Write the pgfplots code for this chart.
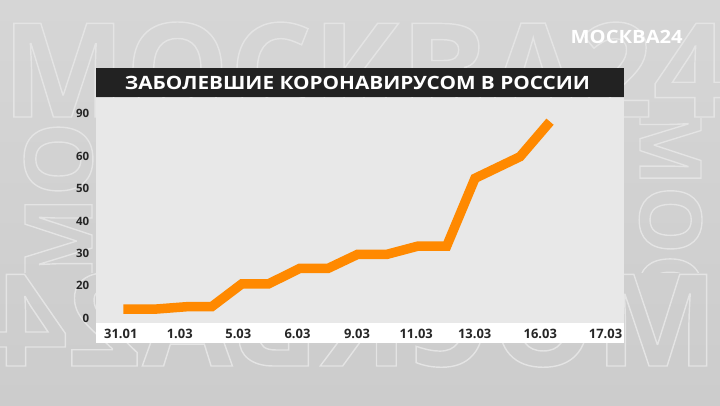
\documentclass[border=0pt]{standalone}
\usepackage{pgfplots}
\pgfplotsset{compat=1.18}
\usepackage{fontspec}
\setmainfont{Open Sans}
\definecolor{bgtop}{RGB}{214,214,214}
\definecolor{bgbot}{RGB}{204,204,204}
\definecolor{wm}{RGB}{228,228,228}
\definecolor{panel}{RGB}{232,232,232}
\definecolor{titlebg}{RGB}{34,34,34}
\definecolor{lineor}{RGB}{255,137,0}
\definecolor{lbl}{RGB}{38,38,38}
\newcommand{\outl}[2]{\special{pdf:literal direct 1 Tr #1 w}#2\special{pdf:literal direct 0 Tr}}
\begin{document}
\begin{tikzpicture}[x=1bp,y=1bp]
\shade[top color=bgtop,bottom color=bgbot] (0,0) rectangle (720,405);
% watermark
\begin{scope}
\clip (0,0) rectangle (720,405);
\node[anchor=base west, inner sep=0, text=wm] at (2,288) {\resizebox{725bp}{95bp}{\bfseries\outl{0.11}{МОСКВА24}}};
\node[anchor=base west, inner sep=0, text=wm] at (-7,39) {\reflectbox{\resizebox{725bp}{93bp}{\bfseries\outl{0.11}{МОСКВА24}}}};
\end{scope}
\begin{scope}
\clip (0,133) rectangle (720,287);
\node[rotate=90, anchor=base west, inner sep=0, text=wm] at (92,120) {\resizebox{!}{68bp}{\bfseries\outl{0.15}{МОСК}}};
\node[rotate=-90, anchor=base west, inner sep=0, text=wm] at (640,300) {\resizebox{!}{62bp}{\bfseries\outl{0.16}{МОСК}}};
\end{scope}
% logo
\node[inner sep=0, text=white] at (626.7,368.35) {\resizebox{112bp}{13.3bp}{\bfseries МОСКВА24}};
% title box
\fill[titlebg] (95.7,308.3) rectangle (624.3,336.7);
\node[inner sep=0, text=white] at (357.5,321.65) {\resizebox{465bp}{13.3bp}{\bfseries ЗАБОЛЕВШИЕ КОРОНАВИРУСОМ В РОССИИ}};
% x label strip
\fill[white] (95.7,61.7) rectangle (624.3,82.3);
\begin{axis}[
  at={(95.7bp,82.3bp)}, anchor=south west,
  scale only axis, width=528.6bp, height=225bp,
  xmin=95.7, xmax=624.3, ymin=8.60, ymax=78.10,
  axis line style={draw=none}, major tick length=0pt,
  axis background/.style={fill=panel},
  /pgf/number format/assume math mode=true,
  xtick={120.8,179.7,238.3,297.5,357,416.2,474.7,540.3,605.5},
  xticklabels={31.01,1.03,5.03,6.03,9.03,11.03,13.03,16.03,17.03},
  ytick={10.05,20,30,40,50,60,73.37},
  yticklabels={0,20,30,40,50,60,90},
  xticklabel style={font=\fontsize{13}{14}\selectfont\bfseries, text=lbl, anchor=base, yshift=-15.6bp},
  yticklabel style={font=\fontsize{11.5}{13}\selectfont\bfseries, text=lbl, anchor=east, xshift=-2.9bp},
]
\addplot[lineor, line width=9.5bp, line cap=butt, line join=miter] coordinates {
(123.3,12.83) (156.7,12.83) (186.7,13.54) (211.7,13.54) (241.7,20.56) (268.3,20.56)
(300,25.41) (328.3,25.41) (357.5,29.7) (386.7,29.7) (418.3,32.29) (446.7,32.29)
(475,53.2) (520,59.88) (550,70.69)
};
\end{axis}
\end{tikzpicture}
\end{document}
